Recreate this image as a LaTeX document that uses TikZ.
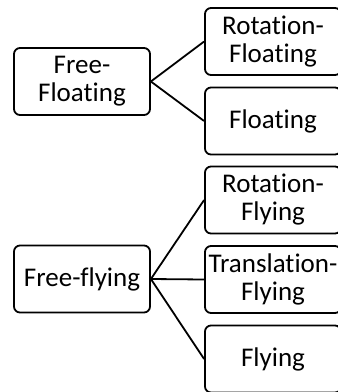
\documentclass[tikz,border=0pt]{standalone}
\usepackage{fontspec}
\setmainfont[Ligatures=NoCommon]{Carlito}
\begin{document}
\begin{tikzpicture}[x=1pt,y=-1pt,
  box/.style={draw=black, line width=1.8pt, rounded corners=6pt, fill=white,
    minimum width=136pt, minimum height=67pt, inner sep=0pt, align=center,
    font=\fontsize{27}{28}\selectfont},
  link/.style={line width=1.8pt}]
\useasboundingbox (0,0) rectangle (338,392);
\clip (0,0) rectangle (338,392);
% parent categories
\node[box] (ff)  at (82,81.5) {Free-\\Floating};
\node[box] (fy)  at (82,279)  {Free-flying};
% free-floating branches
\node[box] (rfl) at (273,41.5) {Rotation-\\Floating};
\node[box] (fl)  at (273,121)  {Floating};
% free-flying branches
\node[box] (rfy) at (273,200)   {Rotation-\\Flying};
\node[box] (tfy) at (273,279.5) {Translation-\\Flying};
\node[box] (fly) at (273,359)   {Flying};
% connectors
\draw[link] (ff.east) -- (rfl.west);
\draw[link] (ff.east) -- (fl.west);
\draw[link] (fy.east) -- (rfy.west);
\draw[link] (fy.east) -- (tfy.west);
\draw[link] (fy.east) -- (fly.west);
\end{tikzpicture}
\end{document}
